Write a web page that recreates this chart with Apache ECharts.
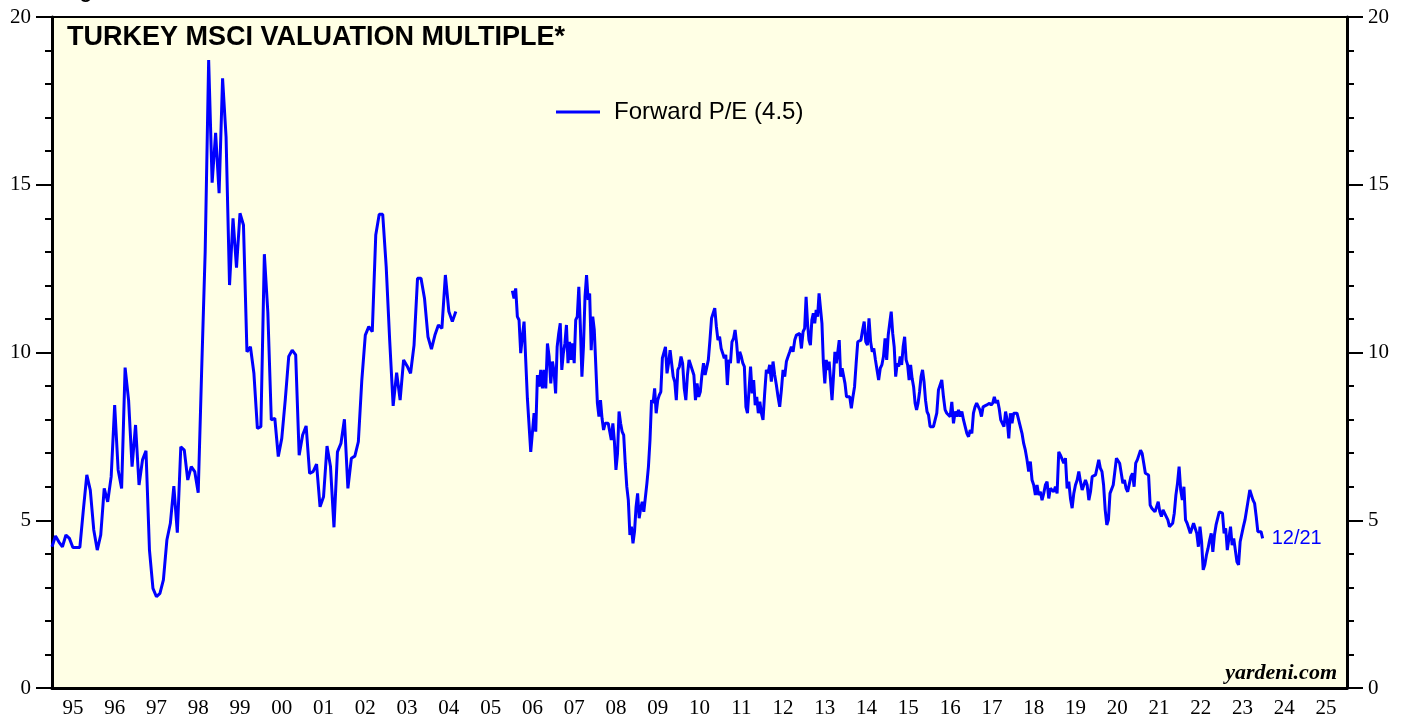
<!DOCTYPE html>
<html>
<head>
<meta charset="utf-8">
<title>Turkey MSCI valuation multiple</title>
<style>
  html, body { margin: 0; padding: 0; background: #fff; }
  #chart { width: 1407px; height: 719px; }
</style>
</head>
<body>
<div id="chart"></div>
<script src="https://cdn.jsdelivr.net/npm/echarts@6/dist/echarts.min.js"></script>
<script>
    // x axis labels, one per year band (1995 .. 2025)
    var yearLabels = ['95', '96', '97', '98', '99', '00', '01', '02', '03', '04', '05', '06', '07', '08', '09', '10',
        '11', '12', '13', '14', '15', '16', '17', '18', '19', '20', '21', '22', '23', '24', '25'];

    // monthly forward P/E, 1995 - Sep 2004
    var pe1995 = [4.21, 4.53, 4.35, 4.21, 4.56, 4.46, 4.19, 4.19, 4.19, 5.30, 6.35, 5.90];
    var pe1996 = [4.71, 4.11, 4.56, 5.95, 5.55, 6.30, 8.43, 6.50, 5.95, 9.55, 8.58, 6.60];
    var pe1997 = [7.84, 6.05, 6.80, 7.07, 4.11, 2.97, 2.72, 2.82, 3.22, 4.41, 4.91, 6.02];
    var pe1998 = [4.63, 7.19, 7.09, 6.20, 6.60, 6.45, 5.82, 9.50, 13.0, 18.72, 15.06, 16.55];
    var pe1999 = [14.75, 18.17, 16.43, 12.01, 14.0, 12.53, 14.15, 13.8, 10.02, 10.17, 9.38, 7.74];
    var pe2000 = [7.79, 12.93, 11.2, 7.99, 8.04, 6.90, 7.44, 8.58, 9.88, 10.07, 9.93, 6.94];
    var pe2001 = [7.54, 7.81, 6.40, 6.45, 6.67, 5.40, 5.70, 7.21, 6.60, 4.79, 7.04, 7.29];
    var pe2002 = [8.01, 5.95, 6.85, 6.91, 7.34, 9.18, 10.52, 10.77, 10.62, 13.50, 14.12, 14.12];
    var pe2003 = [12.56, 10.37, 8.41, 9.40, 8.58, 9.78, 9.60, 9.38, 10.22, 12.21, 12.21, 11.62];
    var pe2004 = [10.47, 10.10, 10.52, 10.82, 10.72, 12.31, 11.22, 10.92, 11.22];

    // roughly bi-weekly forward P/E, 2006 - 2023
    var pe2006 = [11.84, 11.61, 11.91, 11.07, 10.97, 9.98, 10.47, 10.92, 10.87, 8.63, 8.58, 7.04, 6.99, 8.19, 7.64,
        9.33, 8.98, 9.48, 8.93, 9.48, 8.93, 10.27, 9.88, 9.08, 9.73];
    var pe2007 = [9.43, 8.78, 10.17, 10.57, 10.87, 9.48, 9.98, 10.27, 10.82, 9.68, 10.32, 9.78, 10.27, 9.68, 10.97,
        11.07, 11.96, 10.77, 9.28, 10.17, 11.66, 12.31, 11.57, 11.76, 10.07, 11.07, 10.67];
    var pe2008 = [10.62, 8.49, 8.09, 8.58, 8.04, 7.69, 7.89, 7.84, 7.89, 7.94, 7.39, 7.89, 7.34, 6.50, 6.99, 8.24,
        7.89, 7.64, 7.54, 6.70, 6.00, 5.60, 4.56, 4.81, 4.31, 4.66, 5.40];
    var pe2009 = [5.80, 5.06, 5.36, 5.55, 5.25, 5.25, 6.10, 6.60, 7.39, 8.58, 8.49, 8.93, 8.19, 8.58, 8.73, 8.83,
        9.83, 9.88, 10.17, 9.38, 9.68, 10.07, 10.12, 9.28, 9.13, 8.58, 9.48];
    var pe2010 = [9.58, 9.88, 9.68, 8.93, 8.58, 9.33, 9.78, 9.83, 9.48, 9.33, 8.58, 9.08, 8.68, 8.83, 9.33, 9.68,
        9.33, 9.33, 9.78, 10.37, 11.02, 11.17, 11.32, 10.77, 10.37, 10.47];
    var pe2011 = [10.12, 9.98, 9.83, 9.93, 9.03, 9.78, 9.68, 10.32, 10.42, 10.67, 10.27, 9.68, 10.02, 9.88, 9.68,
        9.58, 8.38, 8.19, 8.88, 9.58, 8.78, 9.18, 8.43, 8.68, 8.19, 8.53, 8.19];
    var pe2012 = [7.99, 8.78, 9.48, 9.38, 9.63, 9.13, 9.73, 9.33, 9.03, 8.68, 8.38, 8.88, 9.48, 9.28, 9.73, 9.88,
        10.02, 10.17, 10.02, 10.37, 10.52, 10.47, 10.57, 10.12, 10.62];
    var pe2013 = [10.72, 11.66, 10.87, 10.37, 10.22, 10.97, 11.17, 10.87, 11.27, 11.07, 11.76, 11.76, 10.87, 9.68,
        9.08, 9.78, 9.48, 9.73, 9.78, 8.58, 9.28, 10.02, 9.68, 10.02, 10.37, 9.28, 9.53, 9.48, 9.08];
    var pe2014 = [8.68, 8.63, 8.68, 8.34, 8.68, 8.98, 9.68, 10.32, 10.27, 10.37, 10.67, 10.92, 10.32, 10.22, 11.02,
        10.32, 10.02, 10.12, 9.78, 9.48, 9.18, 9.53, 9.63, 9.88, 10.42, 9.78];
    var pe2015 = [10.52, 10.87, 11.22, 10.57, 10.17, 9.28, 9.68, 9.58, 9.88, 9.63, 10.17, 10.47, 9.78, 9.63, 9.18,
        9.63, 9.23, 8.98, 8.49, 8.29, 8.49, 8.83, 9.28, 9.48, 9.13, 8.58, 8.24, 8.14];
    var pe2016 = [7.79, 7.79, 7.79, 7.99, 8.19, 8.88, 8.88, 9.18, 8.68, 8.29, 8.19, 8.24, 8.09, 8.53, 7.89, 8.24,
        8.09, 8.29, 8.09, 8.24, 7.99, 7.79, 7.59, 7.49, 7.69];
    var pe2017 = [7.59, 8.19, 8.38, 8.49, 8.53, 8.29, 8.09, 8.38, 8.34, 8.43, 8.38, 8.49, 8.43, 8.49, 8.68, 8.49,
        8.58, 8.34, 7.99, 7.89, 7.79, 8.24, 7.99, 7.44, 8.19, 7.89];
    var pe2018 = [8.19, 8.24, 8.19, 7.99, 7.79, 7.59, 7.29, 7.09, 6.80, 6.45, 6.75, 6.20, 6.05, 5.75, 6.05, 5.75,
        5.85, 5.60, 5.80, 6.05, 6.15, 5.65, 5.95, 6.00, 5.85];
    var pe2019 = [6.00, 5.80, 7.04, 6.94, 6.99, 6.70, 6.85, 5.95, 6.15, 5.65, 5.36, 5.80, 6.05, 6.20, 6.45, 6.15,
        5.90, 6.05, 6.20, 6.05, 5.60, 5.85, 6.30, 6.25, 6.35];
    var pe2020 = [6.35, 6.80, 6.55, 6.45, 6.05, 5.31, 4.86, 5.01, 5.80, 5.85, 6.05, 6.45, 6.85, 6.90, 6.70, 6.65,
        6.10, 6.20, 5.95, 5.85, 5.80, 6.30, 6.40, 6.00, 6.70, 6.80];
    var pe2021 = [6.85, 7.09, 6.99, 6.70, 6.40, 6.40, 6.35, 5.45, 5.36, 5.36, 5.25, 5.21, 5.55, 5.25, 5.11, 5.31,
        5.31, 5.11, 5.01, 4.81, 4.81, 4.91, 5.21, 5.75, 6.10, 6.60];
    var pe2022 = [5.90, 5.60, 6.00, 5.01, 4.91, 4.76, 4.61, 4.76, 4.91, 4.76, 4.61, 4.21, 4.81, 4.36, 3.52, 3.67,
        3.96, 4.16, 4.41, 4.61, 4.06, 4.56, 4.86, 4.91, 5.25, 5.21];
    var pe2023 = [5.21, 4.61, 4.76, 4.11, 4.46, 4.81, 4.26, 4.46, 4.41, 3.76, 3.67, 4.36, 4.36, 4.81, 5.01, 5.01,
        5.60, 5.90, 5.90, 5.60, 5.50, 5.11, 4.66, 4.61, 4.66, 4.46];

    var monthly = [[1995, pe1995], [1996, pe1996], [1997, pe1997], [1998, pe1998], [1999, pe1999],
        [2000, pe2000], [2001, pe2001], [2002, pe2002], [2003, pe2003], [2004, pe2004]];
    var weekly = [[2006, pe2006], [2007, pe2007], [2008, pe2008], [2009, pe2009], [2010, pe2010],
        [2011, pe2011], [2012, pe2012], [2013, pe2013], [2014, pe2014], [2015, pe2015], [2016, pe2016],
        [2017, pe2017], [2018, pe2018], [2019, pe2019], [2020, pe2020], [2021, pe2021], [2022, pe2022],
        [2023, pe2023]];

    function buildPoints() {
        var pts = [];
        monthly.forEach(function (y) {
            y[1].forEach(function (v, i) { pts.push([y[0] + i / 12, v]); });
        });
        pts.push([2005.4, '-']); // no data 2004-2005: break the line
        weekly.forEach(function (y) {
            var n = y[1].length;
            y[1].forEach(function (v, i) { pts.push([y[0] + (i + 0.5) / n, v]); });
        });
        return pts;
    }

    var serif = 'Liberation Serif';
    var sans = 'Liberation Sans';

    function yAxis(pos) {
        return {
            type: 'value',
            position: pos,
            min: 0,
            max: 20,
            interval: 5,
            axisLine: {show: true, lineStyle: {color: '#000', width: 3}},
            axisTick: {show: true, length: 16, lineStyle: {color: '#000', width: 2}},
            minorTick: {show: true, splitNumber: 5, length: 7, lineStyle: {color: '#000', width: 2}},
            splitLine: {show: false},
            axisLabel: {color: '#000', fontFamily: serif, fontSize: 21, margin: 21}
        };
    }

    var chart = echarts.init(document.getElementById('chart'));
    chart.setOption({
        animation: false,
        backgroundColor: '#fff',
        title: {
            text: 'TURKEY MSCI VALUATION MULTIPLE*',
            left: 67,
            top: 24,
            padding: 0,
            textStyle: {fontFamily: sans, fontWeight: 'bold', fontSize: 27, color: '#000'}
        },
        legend: {
            data: ['Forward P/E (4.5)'],
            left: 556,
            top: 100,
            padding: 0,
            icon: 'rect',
            itemWidth: 44,
            itemHeight: 3,
            textStyle: {fontFamily: sans, fontSize: 24, color: '#000', padding: [0, 0, 0, 9]}
        },
        grid: {
            left: 52,
            right: 60,
            top: 17,
            bottom: 31,
            show: true,
            backgroundColor: '#ffffe5',
            borderColor: '#000',
            borderWidth: 2
        },
        xAxis: [
            {
                type: 'category',
                data: yearLabels,
                boundaryGap: true,
                position: 'bottom',
                axisLine: {lineStyle: {color: '#000', width: 3}},
                axisTick: {length: 12, lineStyle: {color: '#000', width: 2}},
                axisLabel: {color: '#000', fontFamily: serif, fontSize: 21, margin: 10, interval: 0},
                splitLine: {show: false}
            },
            {type: 'value', min: 1995, max: 2026, show: false}
        ],
        yAxis: [yAxis('left'), yAxis('right')],
        graphic: [
            {
                type: 'text',
                right: 70,
                top: 662,
                style: {text: 'yardeni.com', font: 'italic bold 22px "Liberation Serif"', fill: '#000'}
            },
            {
                type: 'text',
                left: 62,
                top: -18,
                style: {text: 'Figure 8.', font: 'bold 20px "Liberation Sans"', fill: '#000'}
            }
        ],
        series: [
            {
                name: 'Forward P/E (4.5)',
                type: 'line',
                xAxisIndex: 1,
                yAxisIndex: 0,
                showSymbol: false,
                symbol: 'none',
                connectNulls: false,
                lineStyle: {color: '#0000ff', width: 3},
                itemStyle: {color: '#0000ff'},
                endLabel: {
                    show: true,
                    formatter: '12/21',
                    color: '#0000ff',
                    fontFamily: sans,
                    fontSize: 20,
                    distance: 9
                },
                data: buildPoints()
            }
        ]
    });
</script>
</body>
</html>
